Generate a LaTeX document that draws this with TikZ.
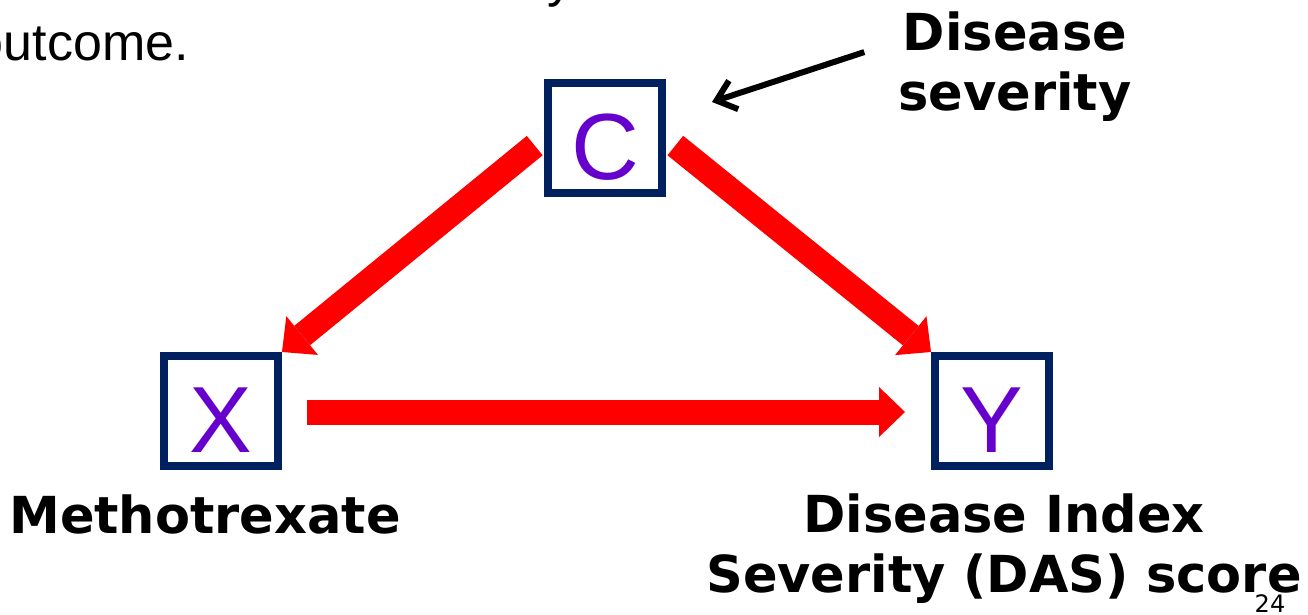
\documentclass[tikz,border=0pt]{standalone}
\usepackage{fontspec}
\setmainfont{Liberation Sans}
\newfontfamily\verdfont{DejaVu Sans}
\usetikzlibrary{arrows.meta,calc}
\definecolor{box-navy}{HTML}{002060}
\definecolor{var-violet}{HTML}{6600CC}
\definecolor{path-red}{HTML}{FF0000}

\tikzset{
  varbox/.style={draw=box-navy,line width=8pt,minimum width=114pt,minimum height=110pt,
    inner sep=0pt,outer sep=4pt,text=var-violet,font=\fontsize{94}{94}\selectfont,
    text height=83pt,text depth=0pt},
  causal/.style={draw=path-red,line width=25pt,-{Triangle[length=26pt,width=50pt,line width=0pt]}},
  lbl/.style={font=\verdfont\bfseries\fontsize{51}{60}\selectfont,inner sep=0pt,align=center}
}

\begin{document}
\begin{tikzpicture}[x=1pt,y=1pt]
  \useasboundingbox (0,0) rectangle (1308,614);
  % leftover slide text
  \node[font=\fontsize{52}{62}\selectfont,inner sep=0pt,anchor=base east] (prev) at (189,553) {outcome.};
  \node[font=\fontsize{52}{62}\selectfont,inner sep=0pt,anchor=base west] (prevy) at (547,617) {y};
  % variables
  \node[varbox] (C) at (605,476) {C};
  \node[varbox] (X) at (221,203) {X};
  \node[varbox] (Y) at (992,203) {Y};
  \draw[causal,shorten <=12pt] (C.west) -- (X.north east);
  \draw[causal,shorten <=12pt] (C.east) -- (Y.north west);
  \draw[causal,shorten <=25pt,shorten >=26pt] ([yshift=-1pt]X.east) -- ([yshift=-1pt]Y.west);
  % labels
  \node[lbl,anchor=north] (sev) at (1015,602) {Disease\\severity};
  \node[lbl,anchor=base] (mtx) at (205,81) {Methotrexate};
  \node[lbl,anchor=north] (das) at (1004,120) {Disease Index\\Severity (DAS) score};
  \coordinate (sevtail) at ($(sev.west)+(-34,15)$);
  \coordinate (sevtip) at ($(C.north east)+(46,-23)$);
  \draw[line width=6pt,-{Straight Barb[length=18pt,width=30pt]}] (sevtail) -- (sevtip);
  \node[font=\verdfont\fontsize{24}{24}\selectfont,inner sep=0pt,anchor=base] (pg) at (1270,2) {24};
\end{tikzpicture}
\end{document}
